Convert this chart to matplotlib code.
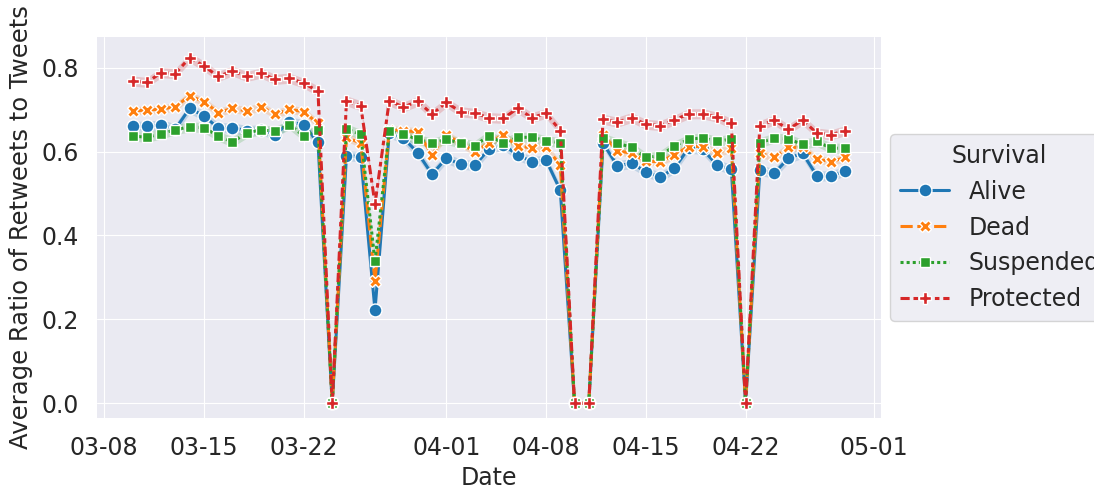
import numpy as np
import pandas as pd
import matplotlib
matplotlib.use("Agg")
import matplotlib.pyplot as plt
import matplotlib.dates as mdates

dates = pd.date_range("2020-03-10", "2020-04-29", freq="D")

alive = [0.661, 0.660, 0.664, 0.654, 0.703, 0.685, 0.656, 0.657, 0.650, 0.652, 0.640,
         0.671, 0.664, 0.622, 0.0, 0.590, 0.588, 0.222, 0.644, 0.632, 0.597, 0.546,
         0.584, 0.570, 0.567, 0.606, 0.616, 0.592, 0.576, 0.580, 0.508, 0.0, 0.0,
         0.620, 0.566, 0.572, 0.552, 0.539, 0.560, 0.608, 0.605, 0.568, 0.558, 0.0,
         0.555, 0.548, 0.584, 0.596, 0.542, 0.542, 0.554]
dead = [0.697, 0.699, 0.701, 0.707, 0.733, 0.719, 0.693, 0.703, 0.697, 0.707, 0.689,
        0.701, 0.695, 0.667, 0.0, 0.634, 0.620, 0.291, 0.652, 0.650, 0.647, 0.593,
        0.640, 0.620, 0.600, 0.620, 0.640, 0.613, 0.609, 0.610, 0.568, 0.0, 0.0,
        0.640, 0.602, 0.596, 0.577, 0.576, 0.592, 0.612, 0.612, 0.597, 0.608, 0.0,
        0.596, 0.586, 0.610, 0.610, 0.582, 0.576, 0.586]
suspended = [0.637, 0.634, 0.642, 0.652, 0.659, 0.657, 0.637, 0.623, 0.644, 0.652, 0.648,
             0.664, 0.637, 0.652, 0.0, 0.654, 0.641, 0.338, 0.649, 0.641, 0.629, 0.620,
             0.629, 0.620, 0.614, 0.638, 0.620, 0.634, 0.634, 0.626, 0.621, 0.0, 0.0,
             0.632, 0.620, 0.610, 0.586, 0.590, 0.613, 0.629, 0.633, 0.624, 0.630, 0.0,
             0.621, 0.632, 0.630, 0.617, 0.624, 0.608, 0.608]
protected = [0.768, 0.765, 0.788, 0.786, 0.824, 0.804, 0.779, 0.792, 0.779, 0.787, 0.772,
             0.775, 0.763, 0.744, 0.0, 0.721, 0.709, 0.475, 0.721, 0.706, 0.720, 0.689,
             0.717, 0.695, 0.691, 0.681, 0.679, 0.703, 0.681, 0.691, 0.650, 0.0, 0.0,
             0.677, 0.670, 0.681, 0.665, 0.662, 0.675, 0.690, 0.690, 0.682, 0.667, 0.0,
             0.662, 0.675, 0.653, 0.675, 0.644, 0.640, 0.650]

labels = ["Alive", "Dead", "Suspended", "Protected"]
series = [alive, dead, suspended, protected]
ci_half = [0.012, 0.010, 0.012, 0.012]  # rough half-width of the shaded bands
colors = ["#1f77b4", "#ff7f0e", "#2ca02c", "#d62728"]
markers = ["o", "X", (4, 0, 45), "P"]
dashes = [(None, None), (4, 1.5), (1, 1), (3, 1.25, 1.5, 1.25)]

plt.style.use("seaborn-v0_8-darkgrid")
plt.rcParams["font.family"] = "DejaVu Sans"

fig = plt.figure(figsize=(10.94, 4.91), dpi=100)
ax = fig.add_axes([0.0887, 0.1487, 0.7166, 0.7759])

for lab, vals, w, c, m, d in zip(labels, series, ci_half, colors, markers, dashes):
    v = np.array(vals)
    err = np.where(v == 0, 0, w)
    ax.fill_between(dates, v - err, v + err, color=c, alpha=0.2, linewidth=0)
    ln, = ax.plot(dates, v, color=c, marker=m, markersize=9.3, markeredgecolor="white",
                  markeredgewidth=1, linewidth=2.2, label=lab)
    if d[0] is not None:
        ln.set_dashes(d)

ax.set_ylim(-0.035, 0.873)
ax.set_yticks([0.0, 0.2, 0.4, 0.6, 0.8])
ax.xaxis.set_major_locator(mdates.DayLocator(bymonthday=[1, 8, 15, 22]))
ax.xaxis.set_major_formatter(mdates.DateFormatter("%m-%d"))
ax.tick_params(labelsize=17, colors="#262626", pad=13)
ax.set_xlabel("Date", fontsize=17, color="#262626", labelpad=4)
ax.set_ylabel("Average Ratio of Retweets to Tweets", fontsize=17.5, color="#262626",
              labelpad=6)

leg = ax.legend(title="Survival", loc="center left", bbox_to_anchor=(1.0, 0.5),
                borderaxespad=0.4, fontsize=17, title_fontsize=17, frameon=True,
                handlelength=2.1)
leg.get_frame().set_edgecolor("#cccccc")

fig.savefig("out.png", dpi=100)
